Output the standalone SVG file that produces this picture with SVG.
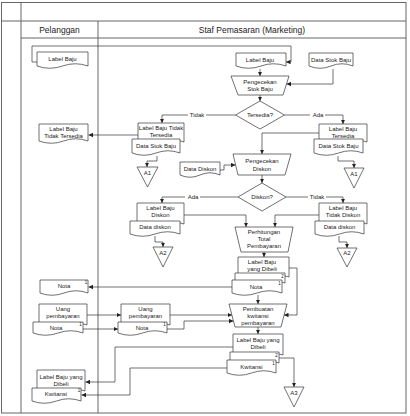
<svg xmlns="http://www.w3.org/2000/svg" width="410" height="416" viewBox="0 0 410 416">
<style>
.frame{fill:none;stroke:#666;stroke-width:1}
.doc,.shape{fill:#fff;stroke:#333;stroke-width:0.7}
.c{fill:none;stroke:#333;stroke-width:0.7;marker-end:url(#ah)}
.cn{fill:none;stroke:#333;stroke-width:0.7}
text{font-family:"Liberation Sans",Arial,sans-serif;fill:#222;text-anchor:middle}
.t{font-size:6px}
.s{font-size:4.5px}
.h{font-size:8.5px}
.lb{fill:#fff;stroke:none}
</style>
<defs>
<marker id="ah" markerWidth="5" markerHeight="5" refX="4.5" refY="2.5" orient="auto" markerUnits="userSpaceOnUse"><path d="M0,0.3 L4.5,2.5 L0,4.7 Z" fill="#222"/></marker>
</defs>
<rect x="0" y="0" width="410" height="416" fill="#fff"/>
<g id="frame">
<rect class="frame" x="1.5" y="2.5" width="404.5" height="410.5"/>
<line class="frame" x1="21" y1="2.5" x2="21" y2="413"/>
<line class="frame" x1="1.5" y1="21" x2="406" y2="21"/>
<line class="frame" x1="21" y1="38" x2="406" y2="38"/>
<line class="frame" x1="98" y1="21" x2="98" y2="413"/>
<text class="h" x="59.5" y="33">Pelanggan</text>
<text class="h" x="252" y="33">Staf Pemasaran (Marketing)</text>
</g>
<g id="connectors">
<path class="c" d="M37,62 H32 V46 H291 V62 H286"/>
<path class="c" d="M333,69 V84 H286.5"/>
<path class="c" d="M260,69 V76"/>
<path class="c" d="M260,95 V101"/>
<path class="c" d="M284.5,115 H343 V124"/>
<path class="c" d="M235.5,115 H162 V123"/>
<path class="c" d="M138,135 H88.5"/>
<path class="c" d="M157,156 V161 H147 V167"/>
<path class="c" d="M338,156 V161 H354 V168"/>
<path class="c" d="M319,133 H262 V154"/>
<path class="c" d="M220,170 H224 V165 H235.5"/>
<path class="c" d="M262,175 V183"/>
<path class="c" d="M286,197 H343 V203"/>
<path class="c" d="M238,197 H162 V203"/>
<path class="c" d="M155,236 V242 H163 V247"/>
<path class="c" d="M339,236 V242 H347 V248"/>
<path class="c" d="M184,215 H246 V227"/>
<path class="c" d="M319,215 H275 V227"/>
<path class="c" d="M264,252 V257"/>
<path class="c" d="M289,268 H297 V315 H284"/>
<path class="c" d="M232,287 H88.5"/>
<path class="c" d="M258,295 V304"/>
<path class="c" d="M87,315 H121"/>
<path class="c" d="M83,329 H118"/>
<path class="c" d="M170,315 H232"/>
<path class="c" d="M167,329 H184 V321 H233.5"/>
<path class="c" d="M258,327 V334"/>
<path class="c" d="M279,358 H294 V387"/>
<path class="c" d="M233,347 H115 V382 H85.5"/>
<path class="c" d="M227,368 H130 V395 H81.5"/>
<rect class="lb" x="310" y="112" width="15" height="6"/>
<text class="t" x="318" y="117">Ada</text>
<rect class="lb" x="188" y="112" width="18" height="6"/>
<text class="t" x="197" y="117">Tidak</text>
<rect class="lb" x="308" y="194" width="18" height="6"/>
<text class="t" x="317" y="199">Tidak</text>
<rect class="lb" x="185" y="194" width="15" height="6"/>
<text class="t" x="193" y="199">Ada</text>
</g>
<g id="p_label_baju">
<path class="doc" d="M37 52 H88 V66 Q75.25 61.5 62.5 66 Q49.75 70.5 37 66 Z"/>
<text class="t" x="62.5" y="61">Label Baju</text>
</g>
<g id="p_label_tidak_tersedia">
<path class="doc" d="M39 124 H88 V141 Q75.75 136.5 63.5 141 Q51.25 145.5 39 141 Z"/>
<text class="t" x="63.5" y="131">Label Baju</text>
<text class="t" x="63.5" y="138">Tidak Tersedia</text>
</g>
<g id="p_nota">
<path class="doc" d="M40 280 H88 V293 Q76 288.5 64 293 Q52 297.5 40 293 Z"/>
<text class="t" x="64" y="288">Nota</text>
<text class="s" x="86" y="284">1</text>
</g>
<g id="p_uang_nota">
<path class="doc" d="M39 304 H87 V325 Q75 320.5 63 325 Q51 329.5 39 325 Z"/>
<text class="t" x="63" y="310.5">Uang</text>
<text class="t" x="63" y="317.5">pembayaran</text>
<path class="doc" d="M33 322 H83 V333 Q70.5 328.5 58 333 Q45.5 337.5 33 333 Z"/>
<text class="t" x="56" y="329.5">Nota</text>
<text class="s" x="80.5" y="326">1</text>
</g>
<g id="p_label_dibeli_kwitansi">
<path class="doc" d="M37 370 H85 V391 Q73 386.5 61 391 Q49 395.5 37 391 Z"/>
<text class="t" x="61" y="378.5">Label Baju yang</text>
<text class="t" x="61" y="385.5">Dibeli</text>
<path class="doc" d="M32 388 H81 V401 Q68.75 396.5 56.5 401 Q44.25 405.5 32 401 Z"/>
<text class="t" x="56" y="395.5">Kwitansi</text>
<text class="s" x="79" y="392">1</text>
</g>
<g id="m_label_baju">
<path class="doc" d="M236 53 H286 V66 Q273.5 61.5 261 66 Q248.5 70.5 236 66 Z"/>
<text class="t" x="260" y="62">Label Baju</text>
</g>
<g id="m_data_stok">
<path class="doc" d="M309 53 H353 V66 Q342 61.5 331 66 Q320 70.5 309 66 Z"/>
<text class="t" x="331" y="62">Data Stok Baju</text>
</g>
<g id="pengecekan_stok">
<path class="shape" d="M231 76 H289 L283 95 H238 Z"/>
<text class="t" x="260" y="83.5">Pengecekan</text>
<text class="t" x="260" y="91">Stok Baju</text>
</g>
<g id="tersedia">
<path class="shape" d="M260 101 L284.5 115 L260 129 L235.5 115 Z"/>
<text class="t" x="260" y="117">Tersedia?</text>
</g>
<g id="m_tidak_tersedia">
<path class="doc" d="M138 123 H184 V142 Q172.5 137.5 161 142 Q149.5 146.5 138 142 Z"/>
<text class="t" x="161" y="130">Label Baju Tidak</text>
<text class="t" x="161" y="137">Tersedia</text>
<path class="doc" d="M132 139 H180 V153 Q168 148.5 156 153 Q144 157.5 132 153 Z"/>
<text class="t" x="156" y="148">Data Stok Baju</text>
</g>
<g id="a1_left">
<path class="shape" d="M137 167 H158 L147.5 187 Z"/>
<text class="t" x="147.5" y="175">A1</text>
</g>
<g id="m_tersedia">
<path class="doc" d="M319 124 H367 V142 Q355 137.5 343 142 Q331 146.5 319 142 Z"/>
<text class="t" x="343" y="131">Label Baju</text>
<text class="t" x="343" y="138">Tersedia</text>
<path class="doc" d="M314 139 H363 V153 Q350.75 148.5 338.5 153 Q326.25 157.5 314 153 Z"/>
<text class="t" x="338.5" y="148">Data Stok Baju</text>
</g>
<g id="a1_right">
<path class="shape" d="M344 168 H364 L354 188 Z"/>
<text class="t" x="354" y="176">A1</text>
</g>
<g id="pengecekan_diskon">
<path class="shape" d="M233 154 H291 L285 175 H238 Z"/>
<text class="t" x="262" y="163">Pengecekan</text>
<text class="t" x="262" y="170.5">Diskon</text>
</g>
<g id="data_diskon">
<path class="doc" d="M180 162 H220 V175 Q210 170.5 200 175 Q190 179.5 180 175 Z"/>
<text class="t" x="200" y="171">Data Diskon</text>
</g>
<g id="diskon">
<path class="shape" d="M262 183 L286 197 L262 211 L238 197 Z"/>
<text class="t" x="262" y="199">Diskon?</text>
</g>
<g id="m_diskon">
<path class="doc" d="M137 203 H184 V224 Q172.25 219.5 160.5 224 Q148.75 228.5 137 224 Z"/>
<text class="t" x="160.5" y="210">Label Baju</text>
<text class="t" x="160.5" y="217">Diskon</text>
<path class="doc" d="M130 221 H180 V234 Q167.5 229.5 155 234 Q142.5 238.5 130 234 Z"/>
<text class="t" x="155" y="229">Data diskon</text>
</g>
<g id="a2_left">
<path class="shape" d="M153 247 H173 L163 267 Z"/>
<text class="t" x="163" y="255">A2</text>
</g>
<g id="m_tidak_diskon">
<path class="doc" d="M319 203 H367 V224 Q355 219.5 343 224 Q331 228.5 319 224 Z"/>
<text class="t" x="343" y="210">Label Baju</text>
<text class="t" x="343" y="217">Tidak Diskon</text>
<path class="doc" d="M315 221 H364 V234 Q351.75 229.5 339.5 234 Q327.25 238.5 315 234 Z"/>
<text class="t" x="339.5" y="229">Data diskon</text>
</g>
<g id="a2_right">
<path class="shape" d="M337 248 H357 L347 267 Z"/>
<text class="t" x="347" y="255">A2</text>
</g>
<g id="perhitungan">
<path class="shape" d="M235 227 H293 L288 252 H241 Z"/>
<text class="t" x="264" y="234">Perhitungan</text>
<text class="t" x="264" y="241">Total</text>
<text class="t" x="264" y="248">Pembayaran</text>
</g>
<g id="m_label_dibeli_nota">
<path class="doc" d="M238 257 H289 V277 Q276.25 272.5 263.5 277 Q250.75 281.5 238 277 Z"/>
<text class="t" x="262" y="264">Label Baju</text>
<text class="t" x="262" y="271">yang Dibeli</text>
<path class="doc" d="M235 273 H285 V283 Q272.5 278.5 260 283 Q247.5 287.5 235 283 Z"/>
<text class="s" x="282.5" y="278">2</text>
<path class="doc" d="M232 280 H282 V293 Q269.5 288.5 257 293 Q244.5 297.5 232 293 Z"/>
<text class="t" x="256" y="289">Nota</text>
<text class="s" x="279.5" y="284.5">1</text>
</g>
<g id="m_uang_nota">
<path class="doc" d="M121 304 H170 V325 Q157.75 320.5 145.5 325 Q133.25 329.5 121 325 Z"/>
<text class="t" x="145.5" y="310.5">Uang</text>
<text class="t" x="145.5" y="317.5">pembayaran</text>
<path class="doc" d="M118 322 H167 V333 Q154.75 328.5 142.5 333 Q130.25 337.5 118 333 Z"/>
<text class="t" x="142" y="329.5">Nota</text>
<text class="s" x="164.5" y="326">1</text>
</g>
<g id="pembuatan_kwitansi">
<path class="shape" d="M229 304 H287 L281 327 H235 Z"/>
<text class="t" x="258" y="310.5">Pembuatan</text>
<text class="t" x="258" y="317.5">kwitansi</text>
<text class="t" x="258" y="324.5">pembayaran</text>
</g>
<g id="m_label_dibeli_kwitansi">
<path class="doc" d="M233 334 H283 V355 Q270.5 350.5 258 355 Q245.5 359.5 233 355 Z"/>
<text class="t" x="258" y="341.5">Label Baju yang</text>
<text class="t" x="258" y="348.5">Dibeli</text>
<path class="doc" d="M230 352 H279 V363 Q266.75 358.5 254.5 363 Q242.25 367.5 230 363 Z"/>
<text class="s" x="276.5" y="356.5">2</text>
<path class="doc" d="M227 360 H276 V373 Q263.75 368.5 251.5 373 Q239.25 377.5 227 373 Z"/>
<text class="t" x="251.5" y="368.5">Kwitansi</text>
<text class="s" x="273.5" y="364.5">1</text>
</g>
<g id="a3">
<path class="shape" d="M284 387 H304 L294 407 Z"/>
<text class="t" x="294" y="395">A3</text>
</g>
</svg>
